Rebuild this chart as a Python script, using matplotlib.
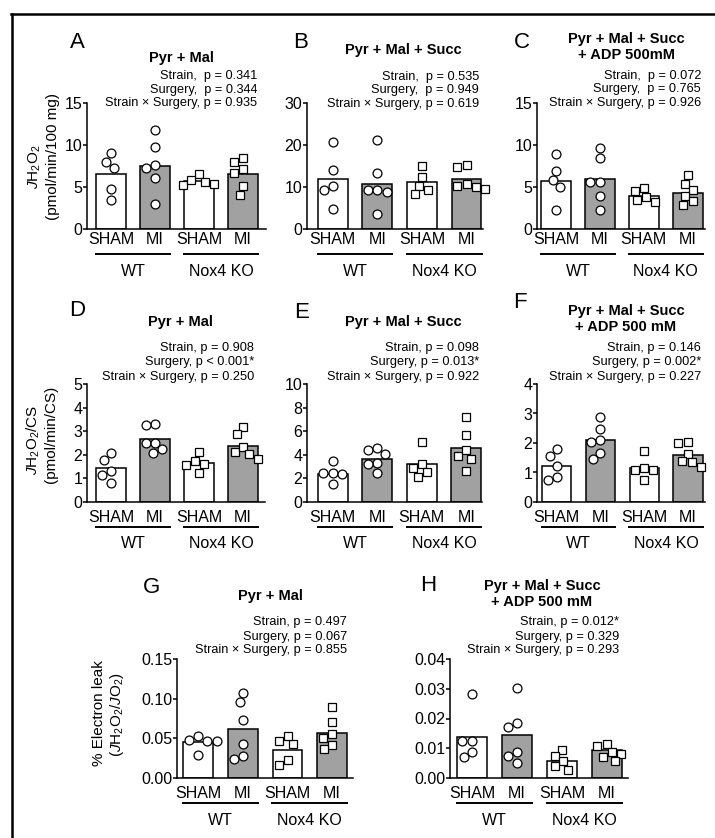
import numpy as np
import matplotlib
matplotlib.use('Agg')
import matplotlib.pyplot as plt
from matplotlib.transforms import blended_transform_factory, ScaledTranslation
from matplotlib.lines import Line2D

plt.rcParams['font.family'] = ['Liberation Sans', 'DejaVu Sans']
plt.rcParams['mathtext.fontset'] = 'custom'
plt.rcParams['mathtext.rm'] = 'Liberation Sans'
plt.rcParams['mathtext.it'] = 'Liberation Sans:italic'
plt.rcParams['mathtext.bf'] = 'Liberation Sans:bold'

# ---------------- data ----------------
bar_labels = ['SHAM', 'MI', 'SHAM', 'MI']
strain_labels = ['WT', 'Nox4 KO']

A_means = [6.57, 7.54, 5.76, 6.57]
A_points = [[9.0, 8.0, 7.3, 4.8, 3.5],
            [11.8, 9.8, 7.6, 7.3, 6.1, 3.0],
            [6.5, 5.3, 5.2, 5.6, 5.8],
            [7.1, 8.5, 8.0, 6.7, 5.1, 4.0]]
A_stats = ['Strain,  p = 0.341', 'Surgery,  p = 0.344', 'Strain × Surgery, p = 0.935']

B_means = [11.9, 10.8, 11.1, 11.9]
B_points = [[20.8, 14.0, 10.3, 9.3, 4.7],
            [21.3, 13.4, 9.2, 8.7, 9.3, 3.6],
            [15.1, 12.5, 10.3, 9.2, 8.3],
            [15.3, 14.8, 10.0, 10.3, 10.7, 9.6]]
B_stats = ['Strain,  p = 0.535', 'Surgery,  p = 0.949', 'Strain × Surgery, p = 0.619']

C_means = [5.76, 5.93, 3.94, 4.3]
C_points = [[8.9, 6.9, 5.8, 5.0, 2.3],
            [9.7, 8.5, 5.6, 5.6, 3.9, 2.3],
            [4.9, 4.5, 3.8, 3.2, 3.4],
            [6.4, 5.3, 4.6, 3.9, 2.8, 3.3]]
C_stats = ['Strain,  p = 0.072', 'Surgery,  p = 0.765', 'Strain × Surgery, p = 0.926']

D_means = [1.42, 2.65, 1.66, 2.38]
D_points = [[2.06, 1.77, 1.30, 1.13, 0.81],
            [3.30, 3.26, 2.48, 2.51, 2.23, 2.06],
            [2.10, 1.63, 1.73, 1.55, 1.23],
            [3.17, 2.87, 2.10, 2.34, 2.03, 1.84]]
D_stats = ['Strain, p = 0.908', 'Surgery, p < 0.001*', 'Strain × Surgery, p = 0.250']

E_means = [2.37, 3.66, 3.2, 4.57]
E_points = [[3.49, 2.45, 2.40, 2.43, 1.49],
            [4.43, 4.09, 4.57, 3.34, 3.2, 2.43],
            [5.06, 2.91, 3.2, 2.51, 2.14],
            [7.2, 5.66, 3.91, 3.66, 4.37, 2.63]]
E_stats = ['Strain, p = 0.098', 'Surgery, p = 0.013*', 'Strain × Surgery, p = 0.922']

F_means = [1.21, 2.10, 1.15, 1.58]
F_points = [[1.79, 1.56, 1.21, 0.73, 0.84],
            [2.88, 2.48, 2.10, 2.05, 1.46, 1.65],
            [1.73, 1.10, 1.15, 1.07, 0.73],
            [2.0, 2.02, 1.64, 1.38, 1.35, 1.19]]
F_stats = ['Strain, p = 0.146', 'Surgery, p = 0.002*', 'Strain × Surgery, p = 0.227']

G_means = [0.0452, 0.062, 0.0356, 0.0566]
G_points = [[0.0524, 0.047, 0.047, 0.048, 0.0293],
            [0.107, 0.0955, 0.0733, 0.0431, 0.0243, 0.0272],
            [0.047, 0.0427, 0.0524, 0.0168, 0.0222],
            [0.0901, 0.0704, 0.0557, 0.0503, 0.0419, 0.0364]]
G_stats = ['Strain, p = 0.497', 'Surgery, p = 0.067', 'Strain × Surgery, p = 0.855']

H_means = [0.01374, 0.01453, 0.0056, 0.0095]
H_points = [[0.0283, 0.0125, 0.0123, 0.0087, 0.0069],
            [0.0304, 0.0184, 0.0170, 0.0086, 0.0073, 0.0050],
            [0.0095, 0.0073, 0.0056, 0.0039, 0.0028],
            [0.0114, 0.0108, 0.0082, 0.0086, 0.0070, 0.0056]]
H_stats = ['Strain, p = 0.012*', 'Surgery, p = 0.329', 'Strain × Surgery, p = 0.293']

titles = {
    'A': 'Pyr + Mal', 'B': 'Pyr + Mal + Succ', 'C': 'Pyr + Mal + Succ\n+ ADP 500mM',
    'D': 'Pyr + Mal', 'E': 'Pyr + Mal + Succ', 'F': 'Pyr + Mal + Succ\n+ ADP 500 mM',
    'G': 'Pyr + Mal', 'H': 'Pyr + Mal + Succ\n+ ADP 500 mM',
}

yticks = {
    'A': ([0, 5, 10, 15], ['0', '5', '10', '15']),
    'B': ([0, 10, 20, 30], ['0', '10', '20', '30']),
    'C': ([0, 5, 10, 15], ['0', '5', '10', '15']),
    'D': ([0, 1, 2, 3, 4, 5], ['0', '1', '2', '3', '4', '5']),
    'E': ([0, 2, 4, 6, 8, 10], ['0', '2', '4', '6', '8', '10']),
    'F': ([0, 1, 2, 3, 4], ['0', '1', '2', '3', '4']),
    'G': ([0, 0.05, 0.10, 0.15], ['0.00', '0.05', '0.10', '0.15']),
    'H': ([0, 0.01, 0.02, 0.03, 0.04], ['0.00', '0.01', '0.02', '0.03', '0.04']),
}

data = {
    'A': (A_means, A_points, A_stats), 'B': (B_means, B_points, B_stats),
    'C': (C_means, C_points, C_stats), 'D': (D_means, D_points, D_stats),
    'E': (E_means, E_points, E_stats), 'F': (F_means, F_points, F_stats),
    'G': (G_means, G_points, G_stats), 'H': (H_means, H_points, H_stats),
}

# ---------------- layout (pixels) ----------------
W, H = 715, 838
DPI = 100
fig = plt.figure(figsize=(W / DPI, H / DPI), dpi=DPI)

layout = {
    'A': dict(l=87, r=266, t=103, b=229, xl=(-0.545, 3.52), let=(77, 43), tit=(181, 58), sx=257, sy=(76, 90, 103), to=10),
    'B': dict(l=307, r=483, t=103, b=229, xl=(-0.58, 3.37), let=(301, 43), tit=(403, 50), sx=479, sy=(77, 90, 104), to=10),
    'C': dict(l=537, r=705, t=103, b=229, xl=(-0.43, 3.39), let=(522, 43), tit=(626, 47), sx=701, sy=(76, 89, 103), to=10),
    'D': dict(l=87, r=265, t=384, b=502, xl=(-0.55, 3.5), let=(77, 310), tit=(180, 322), sx=254, sy=(348, 362, 377), to=15),
    'E': dict(l=307, r=482, t=384, b=502, xl=(-0.58, 3.35), let=(302, 312), tit=(403, 322), sx=479, sy=(348, 362, 377), to=15),
    'F': dict(l=537, r=705, t=384, b=502, xl=(-0.45, 3.39), let=(520, 303), tit=(626, 319), sx=701, sy=(348, 362, 377), to=15),
    'G': dict(l=177, r=353, t=659, b=778, xl=(-0.48, 3.47), let=(152, 587), tit=(270, 596), sx=347, sy=(622, 637, 650), to=15),
    'H': dict(l=450, r=628, t=659, b=778, xl=(-0.49, 3.47), let=(428, 585), tit=(542, 594), sx=619, sy=(622, 637, 650), to=15),
}

def fx(x):
    return x / W

def fy(y):
    return 1 - y / H

BAR_W = 0.67
GRAY = '#a1a1a1'
LW = 1.1
TICK_FS = 11.5
DIAM = 9.6  # px spacing for swarm


def swarm(ax, x0, ys, diam):
    pts = ax.transData.transform(np.column_stack([np.full(len(ys), x0), ys]))
    yd = pts[:, 1]
    order = np.argsort(-yd)
    xs = np.zeros(len(ys))
    placed = []
    for i in order:
        forb = []
        for px, py in placed:
            dy = abs(yd[i] - py)
            if dy < diam:
                dx = np.sqrt(diam ** 2 - dy ** 2)
                forb.append((px - dx, px + dx))
        cands = [0.0] + [a for a, b in forb] + [b for a, b in forb]
        cands.sort(key=lambda c: (abs(c), c))
        for c in cands:
            if all(not (a + 1e-6 < c < b - 1e-6) for a, b in forb):
                xs[i] = c
                break
        placed.append((xs[i], yd[i]))
    ppu = ax.transData.transform((1, 0))[0] - ax.transData.transform((0, 0))[0]
    return x0 + xs / ppu


for key, L in layout.items():
    means, points, stats = data[key]
    ax = fig.add_axes([fx(L['l']), fy(L['b']), fx(L['r'] - L['l']), (L['b'] - L['t']) / H])
    ax.set_xlim(*L['xl'])
    ticks, tlabels = yticks[key]
    ax.set_ylim(0, ticks[-1])
    ax.set_yticks(ticks)
    ax.set_yticklabels(tlabels)
    ax.set_xticks([])
    for s in ['top', 'right']:
        ax.spines[s].set_visible(False)
    for s in ['left', 'bottom']:
        ax.spines[s].set_linewidth(LW)
    ax.tick_params(axis='y', length=3, width=LW, pad=0.5, labelsize=TICK_FS)
    ax.patch.set_alpha(0)

    xpos = np.arange(4)
    colors = ['white', GRAY, 'white', GRAY]
    ax.bar(xpos, means, width=BAR_W, color=colors, edgecolor='black', linewidth=LW, zorder=2)
    for i in range(4):
        xs = swarm(ax, xpos[i], np.array(points[i]), DIAM)
        mk = 'o' if i < 2 else 's'
        ms = 6.4 if i < 2 else 5.8
        ax.plot(xs, points[i], linestyle='none', marker=mk, ms=ms, mfc='white', mec='black',
                mew=0.9, zorder=3, clip_on=False)

    def tr(dy_px):
        return blended_transform_factory(ax.transData, ax.transAxes) + \
            ScaledTranslation(0, -dy_px / DPI, fig.dpi_scale_trans)
    for i in range(4):
        ax.text(xpos[i], 0, bar_labels[i], transform=tr(L['to']), ha='center', va='center',
                fontsize=TICK_FS)
    for g in range(2):
        c = 0.5 + 2 * g
        ax.plot([c - 0.86, c + 0.86], [0, 0], transform=tr(25), color='black', lw=1.4,
                clip_on=False, solid_capstyle='butt')
        ax.text(c, 0, strain_labels[g], transform=tr(42), ha='center', va='center', fontsize=TICK_FS)

    for sy, s in zip(L['sy'], stats):
        fig.text(fx(L['sx']), fy(sy), s, ha='right', va='center', fontsize=9.2)
    fig.text(fx(L['tit'][0]), fy(L['tit'][1]), titles[key], ha='center', va='center',
             fontsize=10.5, fontweight='bold', linespacing=1.2)
    fig.text(fx(L['let'][0]), fy(L['let'][1]), key, ha='center', va='center', fontsize=16)

ylabs = [
    (35, 167, r'$J$H$_2$O$_2$'),
    (53, 156, '(pmol/min/100 mg)'),
    (33, 440, r'$J$H$_2$O$_2$/CS'),
    (51, 434, '(pmol/min/CS)'),
    (99, 713, '% Electron leak'),
    (117, 715, r'($J$H$_2$O$_2$/$J$O$_2$)'),
]
for x, y, s in ylabs:
    fig.text(fx(x), fy(y), s, rotation=90, ha='center', va='center', fontsize=11)

fig.add_artist(Line2D([fx(12), fx(12)], [fy(14.5), 0], color='black', lw=1.8, transform=fig.transFigure))
fig.add_artist(Line2D([fx(11), 1], [fy(14.5), fy(14.5)], color='black', lw=1.8, transform=fig.transFigure))

fig.savefig('out.png', dpi=DPI)
